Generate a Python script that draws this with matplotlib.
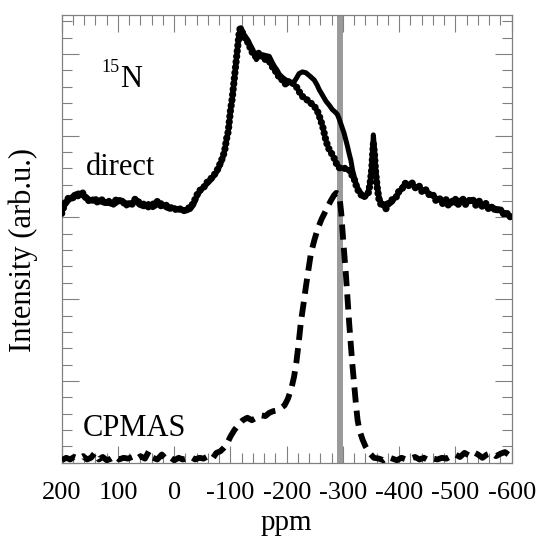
import matplotlib
matplotlib.use("Agg")
import matplotlib.pyplot as plt
from matplotlib.ticker import MultipleLocator, NullFormatter

plt.rcParams['font.family'] = ['Liberation Serif', 'DejaVu Serif']
plt.rcParams['axes.unicode_minus'] = False

# --- data (ppm, intensity in major-tick units) ---
direct_ppm = [200, 193, 186, 178, 170, 162, 154, 147, 139, 131, 123, 116, 108, 100, 92, 85,
              77, 69, 62, 54, 46, 38, 31, 23, 15, 8, 0, -8, -15, -22, -29, -35, -40, -45,
              -51, -57, -63, -69, -74, -78, -83, -87, -90, -93, -96, -98, -100, -103, -105,
              -107, -109, -111, -113, -115, -117, -119, -124, -131, -136, -140, -146, -151,
              -157, -163, -169, -174, -178, -183, -187, -193, -199, -205, -211, -217, -222,
              -228, -234, -241, -249, -254, -258, -264, -270, -276, -281, -286, -290, -293,
              -296, -299, -302, -305, -308, -311, -314, -317, -320, -323, -327, -332, -336,
              -341, -345, -348, -351, -354, -356, -358, -361, -364, -368, -372, -376, -382,
              -388, -394, -400, -406, -412, -418, -423, -429, -435, -441, -447, -453, -459,
              -465, -471, -477, -483, -488, -494, -500, -506, -512, -518, -524, -530, -536,
              -542, -548, -554, -560, -566, -572, -578, -584, -590, -596, -600]
direct_line = [3.09, 3.16, 3.22, 3.28, 3.30, 3.26, 3.24, 3.20, 3.23, 3.19, 3.17, 3.21, 3.15,
               3.19, 3.21, 3.14, 3.18, 3.20, 3.15, 3.13, 3.17, 3.12, 3.15, 3.18, 3.12, 3.10,
               3.12, 3.09, 3.10, 3.08, 3.10, 3.16, 3.25, 3.31, 3.36, 3.40, 3.44, 3.49, 3.54,
               3.58, 3.66, 3.74, 3.84, 3.95, 4.06, 4.16, 4.30, 4.44, 4.56, 4.68, 4.82, 4.96,
               5.08, 5.21, 5.30, 5.32, 5.24, 5.17, 5.10, 5.05, 4.93, 4.98, 4.99, 4.98, 4.97,
               4.90, 4.85, 4.80, 4.75, 4.71, 4.68, 4.66, 4.64, 4.70, 4.76, 4.78, 4.77, 4.73,
               4.68, 4.62, 4.56, 4.49, 4.42, 4.37, 4.32, 4.29, 4.26, 4.21, 4.15, 4.09, 4.03,
               3.95, 3.87, 3.78, 3.70, 3.58, 3.50, 3.42, 3.35, 3.30, 3.27, 3.26, 3.32, 3.42,
               3.62, 4.01, 3.85, 3.62, 3.40, 3.26, 3.18, 3.14, 3.13, 3.16, 3.19, 3.26, 3.30,
               3.38, 3.40, 3.41, 3.40, 3.38, 3.37, 3.34, 3.32, 3.30, 3.27, 3.24, 3.22, 3.20,
               3.19, 3.18, 3.21, 3.17, 3.19, 3.22, 3.18, 3.22, 3.20, 3.19, 3.18, 3.16, 3.14,
               3.11, 3.13, 3.10, 3.09, 3.07, 3.05, 3.02, 3.01]
direct_dots = [3.05, 3.20, 3.25, 3.24, 3.27, 3.30, 3.20, 3.23, 3.18, 3.22, 3.20, 3.16, 3.19,
               3.23, 3.17, 3.19, 3.14, 3.23, 3.18, 3.16, 3.13, 3.16, 3.20, 3.14, 3.15, 3.13,
               3.09, 3.12, 3.07, 3.11, 3.12, 3.19, 3.27, 3.33, 3.35, 3.42, 3.46, 3.50, 3.55,
               3.60, 3.68, 3.75, 3.83, 3.96, 4.05, 4.18, 4.31, 4.45, 4.58, 4.70, 4.84, 4.97,
               5.10, 5.23, 5.31, 5.30, 5.21, 5.14, 5.06, 5.00, 4.96, 5.02, 4.95, 4.93, 4.91,
               4.85, 4.80, 4.77, 4.70, 4.68, 4.62, 4.67, 4.64, 4.60, 4.54, 4.48, 4.45, 4.41,
               4.36, 4.31, 4.24, 4.11, 3.93, 3.82, 3.77, 3.70, 3.63, 3.61, 3.60, 3.60, 3.60,
               3.60, 3.60, 3.58, 3.55, 3.50, 3.47, 3.40, 3.33, 3.28, 3.24, 3.28, 3.30, 3.40,
               3.58, 3.90, 3.78, 3.55, 3.36, 3.22, 3.15, 3.17, 3.10, 3.19, 3.22, 3.24, 3.33,
               3.36, 3.43, 3.38, 3.42, 3.36, 3.39, 3.31, 3.34, 3.28, 3.29, 3.21, 3.24, 3.17,
               3.22, 3.14, 3.20, 3.22, 3.15, 3.24, 3.16, 3.20, 3.23, 3.15, 3.20, 3.13, 3.17,
               3.09, 3.14, 3.07, 3.12, 3.04, 3.07, 3.00, 3.03]

cpmas_ppm = [200, 192, 185, 178, 170, 162, 155, 148, 141, 134, 127, 120, 112, 105, 98, 90,
             82, 75, 68, 60, 52, 45, 38, 30, 22, 15, 8, 0, -8, -15, -22, -30, -37, -45, -52,
             -60, -68, -75, -82, -88, -93, -100, -107, -114, -122, -130, -138, -146, -154,
             -162, -169, -176, -183, -190, -196, -202, -208, -213, -217, -221, -225, -230,
             -234, -239, -243, -249, -255, -262, -270, -278, -284, -288, -291, -294, -297,
             -299, -302, -305, -308, -311, -314, -317, -320, -323, -326, -330, -335, -340,
             -347, -355, -364, -372, -380, -388, -396, -404, -412, -420, -428, -436, -444,
             -452, -460, -468, -476, -484, -492, -500, -508, -516, -524, -532, -540, -548,
             -556, -564, -572, -580, -588, -596, -600]
cpmas_int = [0.03, 0.06, 0.04, 0.07, 0.05, 0.08, 0.04, 0.06, 0.12, 0.04, 0.07, 0.03, 0.05,
             0.08, 0.04, 0.06, 0.05, 0.07, 0.04, 0.08, 0.05, 0.14, 0.06, 0.04, 0.10, 0.05,
             0.07, 0.03, 0.06, 0.04, 0.05, 0.07, 0.04, 0.06, 0.05, 0.08, 0.05, 0.12, 0.14,
             0.18, 0.22, 0.32, 0.40, 0.46, 0.52, 0.55, 0.52, 0.55, 0.58, 0.57, 0.61, 0.63,
             0.64, 0.67, 0.70, 0.78, 0.90, 1.05, 1.22, 1.45, 1.71, 1.95, 2.15, 2.38, 2.56,
             2.72, 2.86, 2.98, 3.09, 3.20, 3.27, 3.30, 3.29, 3.24, 3.05, 2.85, 2.58, 2.32,
             2.02, 1.71, 1.44, 1.18, 0.95, 0.72, 0.52, 0.38, 0.28, 0.20, 0.12, 0.06, 0.05,
             0.03, 0.07, 0.05, 0.03, 0.06, 0.04, 0.05, 0.07, 0.04, 0.06, 0.03, 0.05, 0.04,
             0.06, 0.05, 0.08, 0.10, 0.07, 0.12, 0.09, 0.13, 0.10, 0.06, 0.10, 0.12, 0.08,
             0.11, 0.13, 0.09, 0.12]

marker_ppm = -294

fig = plt.figure(figsize=(5.39, 5.42), dpi=100)
ax = fig.add_axes([0.1145, 0.1463, 0.8349, 0.8266])

ax.axvline(marker_ppm, color='#9a9a9a', lw=4.3, zorder=1)

# direct: solid trace plus the dotted trace drawn over it
ax.plot(direct_ppm, direct_line, color='black', lw=3.6,
        solid_capstyle='round', solid_joinstyle='round', zorder=3)
ax.plot(direct_ppm, direct_dots, color='black', lw=5.2,
        linestyle=(0, (0.01, 0.75)), dash_capstyle='round', zorder=3)
# CPMAS: thick dashes
ax.plot(cpmas_ppm, cpmas_int, color='black', lw=4.2,
        linestyle=(0, (2.6, 1.4)), dash_capstyle='butt', zorder=3)

ax.set_xlim(200, -600)
ax.set_ylim(0, 5.48)

ax.xaxis.set_major_locator(MultipleLocator(100))
ax.xaxis.set_minor_locator(MultipleLocator(20))
ax.yaxis.set_major_locator(MultipleLocator(1))
ax.yaxis.set_minor_locator(MultipleLocator(0.2))
ax.yaxis.set_major_formatter(NullFormatter())

ax.tick_params(which='both', direction='in', top=True, right=True,
               color='#808080', width=0.8)
ax.tick_params(which='major', length=12)
ax.tick_params(which='minor', length=7)
ax.tick_params(axis='x', labelsize=19, pad=14)
for s in ax.spines.values():
    s.set_color('#808080')
    s.set_linewidth(0.9)

ax.set_xlabel('ppm', fontsize=21, va='top')
ax.xaxis.set_label_coords(0.5, -0.105)
ax.set_ylabel('Intensity (arb.u.)', fontsize=22)
ax.yaxis.set_label_coords(-0.053, 0.475)

ax.text(0.13, 0.8386, 'N', transform=ax.transAxes, fontsize=22, ha='left', va='baseline')
ax.text(0.089, 0.872, '15', transform=ax.transAxes, fontsize=13, ha='left', va='baseline')
ax.text(0.054, 0.642, 'direct', transform=ax.transAxes, fontsize=22, ha='left', va='baseline')
ax.text(0.047, 0.0596, 'CPMAS', transform=ax.transAxes, fontsize=22, ha='left', va='baseline')

plt.savefig('out.png', dpi=100)
plt.close(fig)
